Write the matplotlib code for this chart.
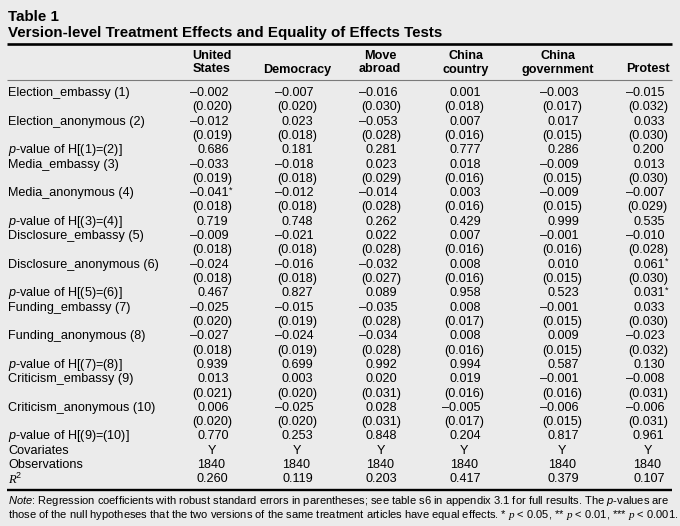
import matplotlib.pyplot as plt

plt.rcParams['font.family'] = ['Liberation Sans', 'DejaVu Sans']
plt.rcParams['mathtext.fontset'] = 'custom'
plt.rcParams['mathtext.rm'] = 'Liberation Sans'
plt.rcParams['mathtext.it'] = 'Liberation Sans:italic'
plt.rcParams['mathtext.cal'] = 'Liberation Serif:italic'

BG = '#ebebeb'

head_top = ["United", "", "Move", "China", "China", ""]
head_bottom = ["States", "Democracy", "abroad", "country", "government", "Protest"]

treatments = ["Election", "Media", "Disclosure", "Funding", "Criticism"]

# rows: the 10 treatment versions, columns: the 6 outcomes
coefs = [
    [-0.002, -0.007, -0.016, 0.001, -0.003, -0.015],
    [-0.012, 0.023, -0.053, 0.007, 0.017, 0.033],
    [-0.033, -0.018, 0.023, 0.018, -0.009, 0.013],
    [-0.041, -0.012, -0.014, 0.003, -0.009, -0.007],
    [-0.009, -0.021, 0.022, 0.007, -0.001, -0.010],
    [-0.024, -0.016, -0.032, 0.008, 0.010, 0.061],
    [-0.025, -0.015, -0.035, 0.008, -0.001, 0.033],
    [-0.027, -0.024, -0.034, 0.008, 0.009, -0.023],
    [0.013, 0.003, 0.020, 0.019, -0.001, -0.008],
    [0.006, -0.025, 0.028, -0.005, -0.006, -0.006],
]
ses = [
    [0.020, 0.020, 0.030, 0.018, 0.017, 0.032],
    [0.019, 0.018, 0.028, 0.016, 0.015, 0.030],
    [0.019, 0.018, 0.029, 0.016, 0.015, 0.030],
    [0.018, 0.018, 0.028, 0.016, 0.015, 0.029],
    [0.018, 0.018, 0.028, 0.016, 0.016, 0.028],
    [0.018, 0.018, 0.027, 0.016, 0.015, 0.030],
    [0.020, 0.019, 0.028, 0.017, 0.015, 0.030],
    [0.018, 0.019, 0.028, 0.016, 0.015, 0.032],
    [0.021, 0.020, 0.031, 0.016, 0.016, 0.031],
    [0.020, 0.020, 0.031, 0.017, 0.015, 0.031],
]
coef_stars = [(3, 0), (5, 5)]

pvals = [
    [0.686, 0.181, 0.281, 0.777, 0.286, 0.200],
    [0.719, 0.748, 0.262, 0.429, 0.999, 0.535],
    [0.467, 0.827, 0.089, 0.958, 0.523, 0.031],
    [0.939, 0.699, 0.992, 0.994, 0.587, 0.130],
    [0.770, 0.253, 0.848, 0.204, 0.817, 0.961],
]
pval_stars = [(2, 5)]

covariates = ["Y", "Y", "Y", "Y", "Y", "Y"]
observations = [1840, 1840, 1840, 1840, 1840, 1840]
r2 = [0.260, 0.119, 0.203, 0.417, 0.379, 0.107]


def fmt(v):
    return f"{v:.3f}".replace("-", "\u2013")


fig = plt.figure(figsize=(6.8, 5.26), dpi=100, facecolor=BG)
ax = fig.add_axes([0, 0, 1, 1])
ax.set_facecolor(BG)
ax.set_xlim(0, 680)
ax.set_ylim(526, 0)
ax.axis('off')

FS = 9.1
x_lab = 8
col_right = [228.5, 313.5, 397.5, 481, 579, 664.5]
head_x = [212, 297, 380, 466, 558, 648]

# title
ax.text(x_lab, 17, "Table 1", fontsize=10.9, fontweight='bold', va='center')
ax.text(x_lab, 33, "Version-level Treatment Effects and Equality of Effects Tests",
        fontsize=10.9, fontweight='bold', va='center')

# rules
ax.plot([7, 672], [44.3, 44.3], color='black', lw=1.9, solid_capstyle='butt')
ax.plot([7, 672], [80.2, 80.2], color='#7a7a7a', lw=0.8, solid_capstyle='butt')
ax.plot([7, 672], [490.2, 490.2], color='black', lw=1.7, solid_capstyle='butt')

# header
for j in range(6):
    if head_top[j]:
        ax.text(head_x[j], 56, head_top[j], fontsize=FS, fontweight='bold',
                ha='center', va='center')
    ax.text(head_x[j], 69.5, head_bottom[j], fontsize=FS, fontweight='bold',
            ha='center', va='center')

# body rows
y0, dy = 93, 14.31
row = 0


def put_values(vals, y, stars=(), dx=0.0, paren=False):
    for j, v in enumerate(vals):
        s = fmt(v)
        if paren:
            s = "(" + s + ")"
        ax.text(col_right[j] + dx, y, s, fontsize=FS, ha='right', va='center')
        if j in stars:
            ax.text(col_right[j] + 0.5, y - 3, "*", fontsize=6.5, ha='left', va='center')


for t, name in enumerate(treatments):
    for k, version in enumerate(["embassy", "anonymous"]):
        i = 2 * t + k
        y = y0 + dy * row
        ax.text(x_lab, y, f"{name}_{version} ({i + 1})", fontsize=FS, va='center')
        put_values(coefs[i], y, stars=[c for r, c in coef_stars if r == i])
        row += 1
        put_values(ses[i], y0 + dy * row, dx=3.5, paren=True)
        row += 1
    y = y0 + dy * row
    ax.text(x_lab, y, rf"$\mathit{{p}}$-value of H[({2 * t + 1})=({2 * t + 2})]",
            fontsize=FS, va='center')
    put_values(pvals[t], y, stars=[c for r, c in pval_stars if r == t])
    row += 1

y = y0 + dy * row
ax.text(x_lab, y, "Covariates", fontsize=FS, va='center')
for j, v in enumerate(covariates):
    ax.text(col_right[j] - 17, y, v, fontsize=FS, ha='center', va='center')
row += 1
y = y0 + dy * row
ax.text(x_lab, y, "Observations", fontsize=FS, va='center')
for j, v in enumerate(observations):
    ax.text(col_right[j] - 17, y, str(v), fontsize=FS, ha='center', va='center')
row += 1
y = y0 + dy * row
ax.text(x_lab, y, r"$\mathcal{R}^2$", fontsize=FS, va='center')
put_values(r2, y)

# note
NFS = 8.0
ax.text(x_lab, 501, r"$\mathit{Note}$: Regression coefficients with robust standard errors in "
        r"parentheses; see table s6 in appendix 3.1 for full results. The $\mathit{p}$-values are",
        fontsize=NFS, va='center')
ax.text(x_lab, 514.5, r"those of the null hypotheses that the two versions of the same treatment "
        r"articles have equal effects. * $\mathcal{p}$ < 0.05, ** $\mathcal{p}$ < 0.01, "
        r"*** $\mathcal{p}$ < 0.001.",
        fontsize=NFS, va='center')

fig.savefig("out.png", dpi=100, facecolor=BG)
